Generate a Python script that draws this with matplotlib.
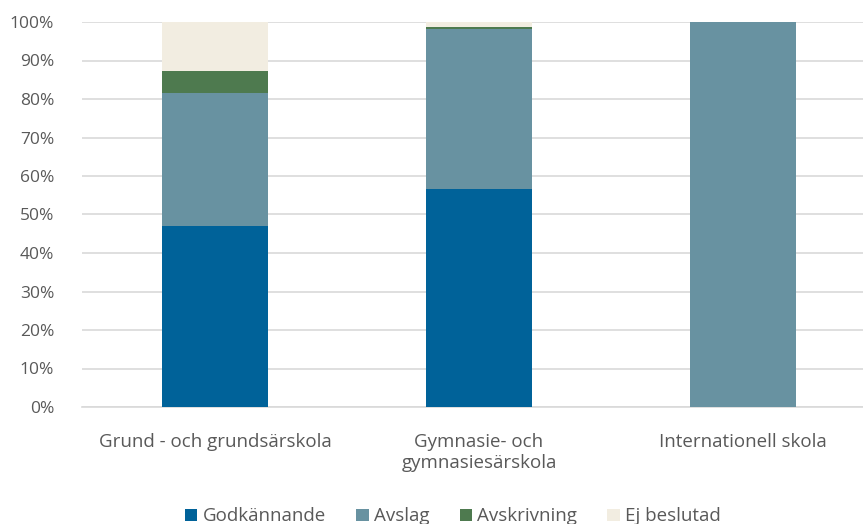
import matplotlib
matplotlib.use("Agg")
import matplotlib.pyplot as plt
import numpy as np
from matplotlib.ticker import PercentFormatter

# ---------------------------------------------------------------------------
# Data (share of decisions per school type)
# ---------------------------------------------------------------------------

categories = ["Grund - och grundsärskola", "Gymnasie- och\ngymnasiesärskola", "Internationell skola"]
series = ["Godkännande", "Avslag", "Avskrivning", "Ej beslutad"]
godkannande = [0.470, 0.566, 0.0]
avslag = [0.346, 0.416, 1.0]
avskrivning = [0.057, 0.005, 0.0]
ej_beslutad = [0.127, 0.013, 0.0]

colors = ["#006299", "#6892A1", "#4E7A4F", "#F2EDE1"]
text_color = "#595959"

plt.rcParams["font.family"] = ["Open Sans", "DejaVu Sans"]

fig = plt.figure(figsize=(8.63, 5.24), dpi=100)
ax = fig.add_axes([82 / 863, 117 / 524, 781 / 863, 385 / 524])

x = np.arange(len(categories))
bottom = np.zeros(len(categories))
for name, vals, col in zip(series, [godkannande, avslag, avskrivning, ej_beslutad], colors):
    ax.bar(x, vals, 0.40, bottom=bottom, color=col, label=name, zorder=3)
    bottom += np.array(vals)

ax.set_xlim(-133 / 264, 2 + 120 / 264)
ax.set_ylim(0, 1)
ax.yaxis.set_major_locator(plt.MultipleLocator(0.1))
ax.yaxis.set_major_formatter(PercentFormatter(1.0, decimals=0))
ax.grid(True, axis="y", color="#D9D9D9", linewidth=1.2, zorder=0)
ax.set_axisbelow(True)

for s in ["top", "right", "left"]:
    ax.spines[s].set_visible(False)
ax.spines["bottom"].set_color("#D9D9D9")
ax.spines["bottom"].set_linewidth(1.2)

ax.set_xticks(x)
ax.set_xticklabels(categories, fontsize=13.5, color=text_color, linespacing=1.2)
ax.tick_params(axis="x", length=0, pad=19)
ax.tick_params(axis="y", length=0, pad=20, labelsize=12.5, labelcolor=text_color)

leg = fig.legend(
    loc="lower center", bbox_to_anchor=(0.525, -0.035), ncol=4, frameon=False,
    fontsize=13.5, handlelength=0.65, handleheight=0.65, handletextpad=0.3,
    columnspacing=1.6,
)
for t in leg.get_texts():
    t.set_color(text_color)

fig.savefig("out.png", dpi=100)
